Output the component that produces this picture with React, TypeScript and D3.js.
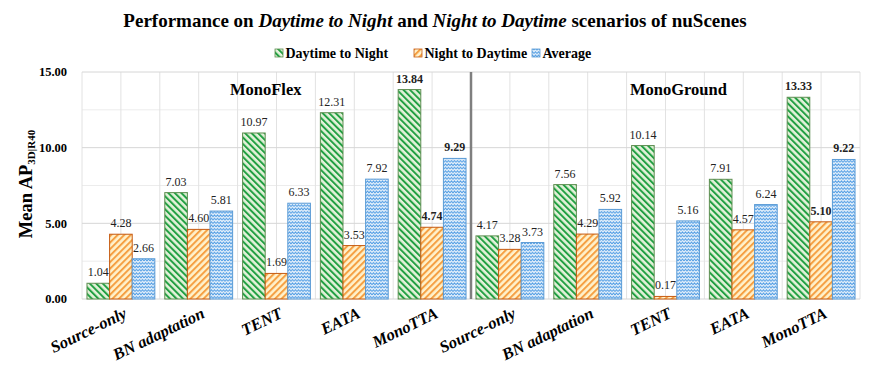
import React from "react";
import * as d3 from "d3";

const categories = ["Source-only", "BN adaptation", "TENT", "EATA", "MonoTTA", "Source-only", "BN adaptation", "TENT", "EATA", "MonoTTA"];
const seriesNames = ["Daytime to Night", "Night to Daytime", "Average"];
const dayToNight = [1.04, 7.03, 10.97, 12.31, 13.84, 4.17, 7.56, 10.14, 7.91, 13.33];
const nightToDay = [4.28, 4.60, 1.69, 3.53, 4.74, 3.28, 4.29, 0.17, 4.57, 5.10];
const average = [2.66, 5.81, 6.33, 7.92, 9.29, 3.73, 5.92, 5.16, 6.24, 9.22];
const boldCategory = "MonoTTA";
const groupNames = ["MonoFlex", "MonoGround"];
const yTicks = [0, 5, 10, 15];
const yMinor = [2.5, 7.5, 12.5];

const W = 870, H = 370;
const L = 82, R = 860, T = 72, B = 299;
const FONT = "'Liberation Serif', 'Times New Roman', serif";

const patIds = ["pGreen", "pOrange", "pBlue"];
const borders = ["#5f8f52", "#c55a11", "#5b9bd5"];

export default function App() {
  const series = [dayToNight, nightToDay, average];
  const idx = categories.map((_, i) => String(i));
  const x = d3.scaleBand().domain(idx).range([L, R]).paddingInner(0).paddingOuter(0);
  const xs = d3.scaleBand().domain(seriesNames).range([0, x.bandwidth()]).paddingInner(0).paddingOuter(0.22);
  const y = d3.scaleLinear().domain([0, 15]).range([B, T]);
  const half = x.bandwidth() / 2;
  const vLines: number[] = [];
  for (let i = 0; i <= categories.length * 2; i++) vLines.push(L + i * half);
  const sepX = x(String(categories.length / 2))!;

  const legendX = [275, 414, 532];
  const groupX = [230, 630];

  return (
    <svg width={W} height={H} style={{ position: "absolute", left: 0, top: 0, background: "#fff" }} fontFamily={FONT}>
      <defs>
        <pattern id="pGreen" patternUnits="userSpaceOnUse" width="4.6" height="4.6" patternTransform="rotate(-45)">
          <rect width="4.6" height="4.6" fill="#e4f2da" />
          <rect width="2" height="4.6" fill="#22a043" />
        </pattern>
        <pattern id="pOrange" patternUnits="userSpaceOnUse" width="4.6" height="4.6" patternTransform="rotate(45)">
          <rect width="4.6" height="4.6" fill="#fff2cc" />
          <rect width="2" height="4.6" fill="#f5a043" />
        </pattern>
        <pattern id="pBlue" patternUnits="userSpaceOnUse" width="6" height="3.4">
          <rect width="6" height="3.4" fill="#e6f1fb" />
          <polyline points="0,2.5 1.5,0.8 3,2.5 4.5,0.8 6,2.5" fill="none" stroke="#4d9be3" strokeWidth="1" />
        </pattern>
      </defs>

      <text x={435} y={27} textAnchor="middle" fontSize={19} fontWeight="bold" fill="#000">
        Performance on <tspan fontStyle="italic">Daytime to Night</tspan> and <tspan fontStyle="italic">Night to Daytime</tspan> scenarios of nuScenes
      </text>

      {seriesNames.map((s, i) => (
        <g key={s}>
          <rect x={legendX[i]} y={49} width={8} height={8} fill={`url(#${patIds[i]})`} stroke={borders[i]} strokeWidth={0.8} />
          <text x={legendX[i] + 10.5} y={57.5} fontSize={14} fontWeight="bold" fill="#000">{s}</text>
        </g>
      ))}

      {yMinor.map((v) => (
        <line key={"m" + v} x1={L} x2={R} y1={y(v)} y2={y(v)} stroke="#ececec" strokeWidth={1} />
      ))}
      {vLines.map((v, i) => (
        <line key={"v" + i} x1={v} x2={v} y1={T} y2={B} stroke="#e2e2e2" strokeWidth={1} />
      ))}
      {yTicks.map((v) => (
        <line key={"t" + v} x1={L} x2={R} y1={y(v)} y2={y(v)} stroke="#d6d6d6" strokeWidth={1} />
      ))}
      {yTicks.map((v) => (
        <text key={"l" + v} x={67} y={y(v)} dy="0.35em" textAnchor="end" fontSize={12.5} fontWeight="bold" fill="#000">
          {v.toFixed(2)}
        </text>
      ))}

      <line x1={sepX} x2={sepX} y1={T} y2={B} stroke="#7f7f7f" strokeWidth={2.5} />

      {groupNames.map((g, gi) => (
        <text key={g} x={groupX[gi]} y={95} fontSize={16.5} fontWeight="bold" fill="#000">{g}</text>
      ))}

      {categories.map((c, ci) => (
        <g key={ci}>
          {series.map((vals, si) => {
            const bx = x(String(ci))! + xs(seriesNames[si])!;
            const bw = xs.bandwidth();
            const v = vals[ci];
            return (
              <g key={si}>
                <rect x={bx} y={y(v)} width={bw} height={B - y(v)} fill={`url(#${patIds[si]})`} stroke={borders[si]} strokeWidth={1} />
                <text x={bx + bw / 2} y={y(v) - 7} textAnchor="middle" fontSize={12} fontWeight={c === boldCategory ? "bold" : "normal"} fill="#222">
                  {v.toFixed(2)}
                </text>
              </g>
            );
          })}
          <text
            transform={`translate(${x(String(ci))! + half + 7},${317}) rotate(-26)`}
            textAnchor="end"
            fontSize={16.5}
            fontWeight="bold"
            fontStyle="italic"
            fill="#000"
          >
            {c}
          </text>
        </g>
      ))}

      <text transform={`translate(32,${184}) rotate(-90)`} textAnchor="middle" fontSize={18.5} fontWeight="bold" fill="#000">
        Mean AP<tspan fontSize={11} dy={3}>3D|R40</tspan>
      </text>
    </svg>
  );
}
